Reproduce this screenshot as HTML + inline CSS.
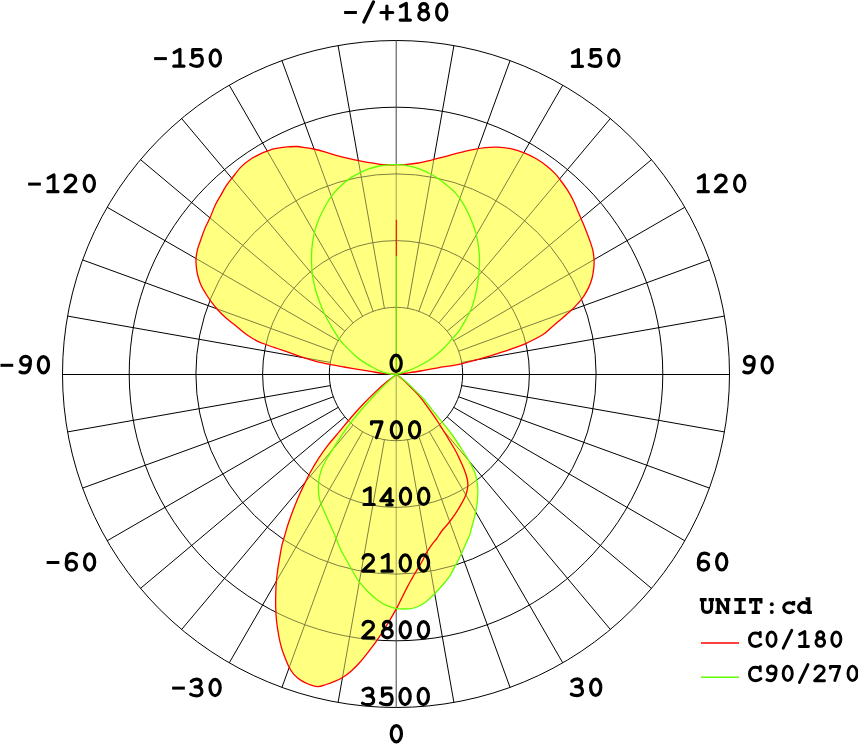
<!DOCTYPE html>
<html><head><meta charset="utf-8"><style>
html,body{margin:0;padding:0;background:#fff;overflow:hidden}
svg{display:block}
</style></head><body>
<svg width="858" height="744" viewBox="0 0 858 744">
<rect width="858" height="744" fill="#fff"/>
<defs><clipPath id="cy"><path d="M396.00 374.20 C395.57 374.17 395.55 374.13 393.40 374.00 C391.25 373.87 386.67 373.78 383.10 373.40 C379.53 373.02 376.18 372.37 372.00 371.70 C367.82 371.03 362.67 370.18 358.00 369.40 C353.33 368.62 348.67 367.83 344.00 367.00 C339.33 366.17 334.67 365.35 330.00 364.40 C325.33 363.45 320.52 362.47 316.00 361.30 C311.48 360.13 307.22 358.80 302.90 357.40 C298.58 356.00 294.37 354.38 290.10 352.90 C285.83 351.42 281.57 349.98 277.30 348.50 C273.03 347.02 267.92 345.28 264.50 344.00 C261.08 342.72 259.37 342.08 256.80 340.80 C254.23 339.52 251.67 338.02 249.10 336.30 C246.53 334.58 243.97 332.53 241.40 330.50 C238.83 328.47 236.22 326.13 233.70 324.10 C231.18 322.07 228.88 320.60 226.30 318.30 C223.72 316.00 220.67 312.98 218.20 310.30 C215.73 307.62 213.52 304.90 211.50 302.20 C209.48 299.50 207.78 296.78 206.10 294.10 C204.42 291.42 202.73 289.00 201.40 286.10 C200.07 283.20 198.92 279.62 198.10 276.70 C197.28 273.78 196.85 271.52 196.50 268.60 C196.15 265.68 195.85 262.33 196.00 259.20 C196.15 256.07 196.72 252.72 197.40 249.80 C198.08 246.88 198.87 245.22 200.10 241.70 C201.33 238.18 203.12 232.77 204.80 228.70 C206.48 224.63 208.42 221.33 210.20 217.30 C211.98 213.27 213.72 208.20 215.50 204.50 C217.28 200.80 219.10 198.23 220.90 195.10 C222.70 191.97 224.37 188.63 226.30 185.70 C228.23 182.77 230.03 180.63 232.50 177.50 C234.97 174.37 238.33 169.78 241.10 166.90 C243.87 164.02 245.97 162.33 249.10 160.20 C252.23 158.07 256.75 155.67 259.90 154.10 C263.05 152.53 265.53 151.70 268.00 150.80 C270.47 149.90 272.25 149.27 274.70 148.70 C277.15 148.13 280.42 147.70 282.70 147.40 C284.98 147.10 286.05 147.05 288.40 146.90 C290.75 146.75 294.00 146.38 296.80 146.50 C299.60 146.62 302.40 147.18 305.20 147.60 C308.00 148.02 310.33 148.30 313.60 149.00 C316.87 149.70 321.08 150.75 324.80 151.80 C328.52 152.85 332.18 154.25 335.90 155.30 C339.62 156.35 343.37 157.23 347.10 158.10 C350.83 158.97 354.57 159.73 358.30 160.50 C362.03 161.27 365.77 162.05 369.50 162.70 C373.23 163.35 377.43 164.05 380.70 164.40 C383.97 164.75 386.55 164.75 389.10 164.80 C391.65 164.85 392.98 164.77 396.00 164.70 C399.02 164.63 403.47 164.68 407.20 164.40 C410.93 164.12 414.67 163.63 418.40 163.00 C422.13 162.37 425.87 161.48 429.60 160.60 C433.33 159.72 437.08 158.70 440.80 157.70 C444.52 156.70 448.18 155.58 451.90 154.60 C455.62 153.62 459.37 152.68 463.10 151.80 C466.83 150.92 470.57 150.00 474.30 149.30 C478.03 148.60 481.77 147.95 485.50 147.60 C489.23 147.25 492.48 147.02 496.70 147.20 C500.92 147.38 506.22 147.77 510.80 148.70 C515.38 149.63 519.95 151.12 524.20 152.80 C528.45 154.48 532.50 156.57 536.30 158.80 C540.10 161.03 543.87 163.73 547.00 166.20 C550.13 168.67 552.85 171.25 555.10 173.60 C557.35 175.95 558.48 177.62 560.50 180.30 C562.52 182.98 565.07 186.33 567.20 189.70 C569.33 193.07 571.62 197.13 573.30 200.50 C574.98 203.87 575.97 206.77 577.30 209.90 C578.63 213.03 579.97 216.17 581.30 219.30 C582.63 222.43 583.73 224.73 585.30 228.70 C586.87 232.67 589.42 239.37 590.70 243.10 C591.98 246.83 592.43 248.20 593.00 251.10 C593.57 254.00 593.98 257.58 594.10 260.50 C594.22 263.42 594.03 265.68 593.70 268.60 C593.37 271.52 592.93 274.87 592.10 278.00 C591.27 281.13 590.17 284.27 588.70 287.40 C587.23 290.53 585.32 293.88 583.30 296.80 C581.28 299.72 578.83 302.43 576.60 304.90 C574.37 307.37 572.58 309.13 569.90 311.60 C567.22 314.07 563.63 317.02 560.50 319.70 C557.37 322.38 554.02 325.23 551.10 327.70 C548.18 330.17 547.25 331.85 543.00 334.50 C538.75 337.15 530.82 341.20 525.60 343.60 C520.38 346.00 515.53 347.52 511.70 348.90 C507.87 350.28 506.27 350.68 502.60 351.90 C498.93 353.12 494.13 354.85 489.70 356.20 C485.27 357.55 480.58 358.77 476.00 360.00 C471.42 361.23 466.20 362.67 462.20 363.60 C458.20 364.53 456.03 364.90 452.00 365.60 C447.97 366.30 442.67 367.02 438.00 367.80 C433.33 368.58 428.67 369.50 424.00 370.30 C419.33 371.10 414.20 372.02 410.00 372.60 C405.80 373.18 401.13 373.53 398.80 373.80 C396.47 374.07 396.47 374.13 396.00 374.20"/><path d="M396.50 374.40 C394.92 375.58 390.55 378.55 387.00 381.50 C383.45 384.45 379.15 388.35 375.20 392.10 C371.25 395.85 367.25 399.85 363.30 404.00 C359.35 408.15 355.43 412.47 351.50 417.00 C347.57 421.53 343.65 426.47 339.70 431.20 C335.75 435.93 331.32 440.87 327.80 445.40 C324.28 449.93 321.58 453.80 318.60 458.40 C315.62 463.00 312.35 468.55 309.90 473.00 C307.45 477.45 305.92 480.87 303.90 485.10 C301.88 489.33 299.62 494.17 297.80 498.40 C295.98 502.63 294.60 506.27 293.00 510.50 C291.40 514.73 289.60 519.55 288.20 523.80 C286.80 528.05 285.62 532.52 284.60 536.00 C283.58 539.48 282.92 541.10 282.10 544.70 C281.28 548.30 280.45 553.30 279.70 557.60 C278.95 561.90 278.18 566.20 277.60 570.50 C277.02 574.80 276.52 579.10 276.20 583.40 C275.88 587.70 275.78 592.27 275.70 596.30 C275.62 600.33 275.57 603.57 275.70 607.60 C275.83 611.63 276.02 615.93 276.50 620.50 C276.98 625.07 277.83 630.70 278.60 635.00 C279.37 639.30 280.23 643.05 281.10 646.30 C281.97 649.55 282.58 651.27 283.80 654.50 C285.02 657.73 286.77 662.43 288.40 665.70 C290.03 668.97 291.50 671.65 293.60 674.10 C295.70 676.55 298.37 678.67 301.00 680.40 C303.63 682.13 306.60 683.47 309.40 684.50 C312.20 685.53 315.00 686.60 317.80 686.60 C320.60 686.60 323.42 685.37 326.20 684.50 C328.98 683.63 331.72 682.62 334.50 681.40 C337.28 680.18 340.10 678.95 342.90 677.20 C345.70 675.45 348.50 673.35 351.30 670.90 C354.10 668.45 356.62 665.98 359.70 662.50 C362.78 659.02 367.07 653.48 369.80 650.00 C372.53 646.52 373.30 645.68 376.10 641.60 C378.90 637.52 383.12 631.17 386.60 625.50 C390.08 619.83 394.68 611.75 397.00 607.60 C399.32 603.45 399.33 602.93 400.50 600.60 C401.67 598.27 402.83 595.93 404.00 593.60 C405.17 591.27 406.33 588.82 407.50 586.60 C408.67 584.38 409.83 582.40 411.00 580.30 C412.17 578.20 413.33 575.98 414.50 574.00 C415.67 572.02 416.60 570.73 418.00 568.40 C419.40 566.07 421.55 562.52 422.90 560.00 C424.25 557.48 424.48 556.03 426.10 553.30 C427.72 550.57 430.87 545.98 432.60 543.60 C434.33 541.22 434.97 541.10 436.50 539.00 C438.03 536.90 439.72 533.75 441.80 531.00 C443.88 528.25 446.78 525.32 449.00 522.50 C451.22 519.68 453.08 517.12 455.10 514.10 C457.12 511.08 459.30 507.63 461.10 504.40 C462.90 501.17 464.78 497.72 465.90 494.70 C467.02 491.68 467.58 488.92 467.80 486.30 C468.02 483.68 467.82 481.83 467.20 479.00 C466.58 476.17 465.32 472.52 464.10 469.30 C462.88 466.08 461.40 462.92 459.90 459.70 C458.40 456.48 457.55 454.37 455.10 450.00 C452.65 445.63 448.22 438.42 445.20 433.50 C442.18 428.58 439.75 424.63 437.00 420.50 C434.25 416.37 431.47 412.55 428.70 408.70 C425.93 404.85 423.17 400.75 420.40 397.40 C417.63 394.05 414.87 391.45 412.10 388.60 C409.33 385.75 406.40 382.67 403.80 380.30 C401.20 377.93 397.72 375.38 396.50 374.40"/><path d="M396.00 374.20 C395.10 374.17 393.05 374.42 390.60 374.00 C388.15 373.58 384.40 372.87 381.30 371.70 C378.20 370.53 375.12 368.72 372.00 367.00 C368.88 365.28 365.72 363.57 362.60 361.40 C359.48 359.23 356.10 356.48 353.30 354.00 C350.50 351.52 347.97 348.75 345.80 346.50 C343.63 344.25 342.38 343.32 340.30 340.50 C338.22 337.68 335.85 333.85 333.30 329.60 C330.75 325.35 327.25 319.52 325.00 315.00 C322.75 310.48 321.37 306.67 319.80 302.50 C318.23 298.33 316.82 294.52 315.60 290.00 C314.38 285.48 313.18 280.27 312.50 275.40 C311.82 270.53 311.57 265.65 311.50 260.80 C311.43 255.95 311.58 251.15 312.10 246.30 C312.62 241.45 313.48 236.22 314.60 231.70 C315.72 227.18 317.07 223.37 318.80 219.20 C320.53 215.03 322.92 210.52 325.00 206.70 C327.08 202.88 328.55 199.87 331.30 196.30 C334.05 192.73 338.40 188.28 341.50 185.30 C344.60 182.32 346.87 180.48 349.90 178.40 C352.93 176.32 356.43 174.43 359.70 172.80 C362.97 171.17 366.23 169.73 369.50 168.60 C372.77 167.47 376.03 166.63 379.30 166.00 C382.57 165.37 386.32 165.02 389.10 164.80 C391.88 164.58 393.45 164.65 396.00 164.70 C398.55 164.75 401.60 164.73 404.40 165.10 C407.20 165.47 410.00 166.13 412.80 166.90 C415.60 167.67 418.40 168.60 421.20 169.70 C424.00 170.80 426.80 172.05 429.60 173.50 C432.40 174.95 435.18 176.48 438.00 178.40 C440.82 180.32 443.63 182.63 446.50 185.00 C449.37 187.37 452.40 189.47 455.20 192.60 C458.00 195.73 460.75 199.52 463.30 203.80 C465.85 208.08 468.42 213.45 470.50 218.30 C472.58 223.15 474.40 227.68 475.80 232.90 C477.20 238.12 478.28 244.38 478.90 249.60 C479.52 254.82 479.60 259.33 479.50 264.20 C479.40 269.07 478.92 273.95 478.30 278.80 C477.68 283.65 476.92 288.45 475.80 293.30 C474.68 298.15 473.35 303.38 471.60 307.90 C469.85 312.42 467.38 316.58 465.30 320.40 C463.22 324.22 461.38 327.62 459.10 330.80 C456.82 333.98 454.35 336.42 451.60 339.50 C448.85 342.58 445.65 346.35 442.60 349.30 C439.55 352.25 436.40 354.87 433.30 357.20 C430.20 359.53 427.12 361.50 424.00 363.30 C420.88 365.10 417.72 366.60 414.60 368.00 C411.48 369.40 407.93 370.73 405.30 371.70 C402.67 372.67 400.35 373.38 398.80 373.80 C397.25 374.22 396.47 374.13 396.00 374.20"/><path d="M396.50 374.40 C394.92 375.77 390.55 379.25 387.00 382.60 C383.45 385.95 379.15 390.35 375.20 394.50 C371.25 398.65 367.25 402.97 363.30 407.50 C359.35 412.03 355.43 416.57 351.50 421.70 C347.57 426.83 342.90 433.58 339.70 438.30 C336.50 443.02 334.43 446.63 332.30 450.00 C330.17 453.37 328.62 455.47 326.90 458.50 C325.18 461.53 323.32 464.78 322.00 468.20 C320.68 471.62 319.60 475.58 319.00 479.00 C318.40 482.42 318.30 485.27 318.40 488.70 C318.50 492.13 318.78 496.17 319.60 499.60 C320.42 503.03 321.88 505.87 323.30 509.30 C324.72 512.73 326.30 516.17 328.10 520.20 C329.90 524.23 332.02 528.63 334.10 533.50 C336.18 538.37 338.57 545.03 340.60 549.40 C342.63 553.77 344.40 556.27 346.30 559.70 C348.20 563.13 349.90 566.38 352.00 570.00 C354.10 573.62 356.23 577.78 358.90 581.40 C361.57 585.02 364.97 588.65 368.00 591.70 C371.03 594.75 374.05 597.42 377.10 599.70 C380.15 601.98 383.05 603.92 386.30 605.40 C389.55 606.88 393.65 608.00 396.60 608.60 C399.55 609.20 401.60 609.00 404.00 609.00 C406.40 609.00 408.67 609.02 411.00 608.60 C413.33 608.18 415.67 607.52 418.00 606.50 C420.33 605.48 422.40 604.47 425.00 602.50 C427.60 600.53 430.73 597.53 433.60 594.70 C436.47 591.87 439.50 588.63 442.20 585.50 C444.90 582.37 447.47 579.48 449.80 575.90 C452.13 572.32 454.23 567.77 456.20 564.00 C458.17 560.23 459.98 556.70 461.60 553.30 C463.22 549.90 464.55 546.65 465.90 543.60 C467.25 540.55 468.78 537.50 469.70 535.00 C470.62 532.50 470.62 531.48 471.40 528.60 C472.18 525.72 473.50 521.53 474.40 517.70 C475.30 513.87 476.23 509.43 476.80 505.60 C477.37 501.77 477.70 498.32 477.80 494.70 C477.90 491.08 477.87 487.52 477.40 483.90 C476.93 480.28 476.30 476.63 475.00 473.00 C473.70 469.37 471.72 465.93 469.60 462.10 C467.48 458.27 465.37 454.77 462.30 450.00 C459.23 445.23 454.63 438.22 451.20 433.50 C447.77 428.78 444.87 425.63 441.70 421.70 C438.53 417.77 435.35 413.85 432.20 409.90 C429.05 405.95 425.95 401.55 422.80 398.00 C419.65 394.45 416.47 391.65 413.30 388.60 C410.13 385.55 406.60 382.07 403.80 379.70 C401.00 377.33 397.72 375.28 396.50 374.40"/></clipPath>
<g id="grid" fill="none" stroke="#000" stroke-width="1">
<circle cx="396.0" cy="374.0" r="66.70"/>
<circle cx="396.0" cy="374.0" r="133.40"/>
<circle cx="396.0" cy="374.0" r="200.10"/>
<circle cx="396.0" cy="374.0" r="266.80"/>
<circle cx="396.0" cy="374.0" r="333.50"/>
<line x1="407.58" y1="439.69" x2="453.91" y2="702.43"/>
<line x1="418.81" y1="436.68" x2="510.06" y2="687.39"/>
<line x1="429.35" y1="431.76" x2="562.75" y2="662.82"/>
<line x1="438.87" y1="425.10" x2="610.37" y2="629.48"/>
<line x1="447.10" y1="416.87" x2="651.48" y2="588.37"/>
<line x1="453.76" y1="407.35" x2="684.82" y2="540.75"/>
<line x1="458.68" y1="396.81" x2="709.39" y2="488.06"/>
<line x1="461.69" y1="385.58" x2="724.43" y2="431.91"/>
<line x1="461.69" y1="362.42" x2="724.43" y2="316.09"/>
<line x1="458.68" y1="351.19" x2="709.39" y2="259.94"/>
<line x1="453.76" y1="340.65" x2="684.82" y2="207.25"/>
<line x1="447.10" y1="331.13" x2="651.48" y2="159.63"/>
<line x1="438.87" y1="322.90" x2="610.37" y2="118.52"/>
<line x1="429.35" y1="316.24" x2="562.75" y2="85.18"/>
<line x1="418.81" y1="311.32" x2="510.06" y2="60.61"/>
<line x1="407.58" y1="308.31" x2="453.91" y2="45.57"/>
<line x1="384.42" y1="308.31" x2="338.09" y2="45.57"/>
<line x1="373.19" y1="311.32" x2="281.94" y2="60.61"/>
<line x1="362.65" y1="316.24" x2="229.25" y2="85.18"/>
<line x1="353.13" y1="322.90" x2="181.63" y2="118.52"/>
<line x1="344.90" y1="331.13" x2="140.52" y2="159.63"/>
<line x1="338.24" y1="340.65" x2="107.18" y2="207.25"/>
<line x1="333.32" y1="351.19" x2="82.61" y2="259.94"/>
<line x1="330.31" y1="362.42" x2="67.57" y2="316.09"/>
<line x1="330.31" y1="385.58" x2="67.57" y2="431.91"/>
<line x1="333.32" y1="396.81" x2="82.61" y2="488.06"/>
<line x1="338.24" y1="407.35" x2="107.18" y2="540.75"/>
<line x1="344.90" y1="416.87" x2="140.52" y2="588.37"/>
<line x1="353.13" y1="425.10" x2="181.63" y2="629.48"/>
<line x1="362.65" y1="431.76" x2="229.25" y2="662.82"/>
<line x1="373.19" y1="436.68" x2="281.94" y2="687.39"/>
<line x1="384.42" y1="439.69" x2="338.09" y2="702.43"/>
<line x1="62.5" y1="374.5" x2="729.5" y2="374.5"/>
</g></defs>
<use href="#grid"/>
<line x1="396.2" y1="40" x2="396.2" y2="708" stroke="#444" stroke-width="1"/>
<g fill="#ffff80" stroke="none">
<path d="M396.00 374.20 C395.57 374.17 395.55 374.13 393.40 374.00 C391.25 373.87 386.67 373.78 383.10 373.40 C379.53 373.02 376.18 372.37 372.00 371.70 C367.82 371.03 362.67 370.18 358.00 369.40 C353.33 368.62 348.67 367.83 344.00 367.00 C339.33 366.17 334.67 365.35 330.00 364.40 C325.33 363.45 320.52 362.47 316.00 361.30 C311.48 360.13 307.22 358.80 302.90 357.40 C298.58 356.00 294.37 354.38 290.10 352.90 C285.83 351.42 281.57 349.98 277.30 348.50 C273.03 347.02 267.92 345.28 264.50 344.00 C261.08 342.72 259.37 342.08 256.80 340.80 C254.23 339.52 251.67 338.02 249.10 336.30 C246.53 334.58 243.97 332.53 241.40 330.50 C238.83 328.47 236.22 326.13 233.70 324.10 C231.18 322.07 228.88 320.60 226.30 318.30 C223.72 316.00 220.67 312.98 218.20 310.30 C215.73 307.62 213.52 304.90 211.50 302.20 C209.48 299.50 207.78 296.78 206.10 294.10 C204.42 291.42 202.73 289.00 201.40 286.10 C200.07 283.20 198.92 279.62 198.10 276.70 C197.28 273.78 196.85 271.52 196.50 268.60 C196.15 265.68 195.85 262.33 196.00 259.20 C196.15 256.07 196.72 252.72 197.40 249.80 C198.08 246.88 198.87 245.22 200.10 241.70 C201.33 238.18 203.12 232.77 204.80 228.70 C206.48 224.63 208.42 221.33 210.20 217.30 C211.98 213.27 213.72 208.20 215.50 204.50 C217.28 200.80 219.10 198.23 220.90 195.10 C222.70 191.97 224.37 188.63 226.30 185.70 C228.23 182.77 230.03 180.63 232.50 177.50 C234.97 174.37 238.33 169.78 241.10 166.90 C243.87 164.02 245.97 162.33 249.10 160.20 C252.23 158.07 256.75 155.67 259.90 154.10 C263.05 152.53 265.53 151.70 268.00 150.80 C270.47 149.90 272.25 149.27 274.70 148.70 C277.15 148.13 280.42 147.70 282.70 147.40 C284.98 147.10 286.05 147.05 288.40 146.90 C290.75 146.75 294.00 146.38 296.80 146.50 C299.60 146.62 302.40 147.18 305.20 147.60 C308.00 148.02 310.33 148.30 313.60 149.00 C316.87 149.70 321.08 150.75 324.80 151.80 C328.52 152.85 332.18 154.25 335.90 155.30 C339.62 156.35 343.37 157.23 347.10 158.10 C350.83 158.97 354.57 159.73 358.30 160.50 C362.03 161.27 365.77 162.05 369.50 162.70 C373.23 163.35 377.43 164.05 380.70 164.40 C383.97 164.75 386.55 164.75 389.10 164.80 C391.65 164.85 392.98 164.77 396.00 164.70 C399.02 164.63 403.47 164.68 407.20 164.40 C410.93 164.12 414.67 163.63 418.40 163.00 C422.13 162.37 425.87 161.48 429.60 160.60 C433.33 159.72 437.08 158.70 440.80 157.70 C444.52 156.70 448.18 155.58 451.90 154.60 C455.62 153.62 459.37 152.68 463.10 151.80 C466.83 150.92 470.57 150.00 474.30 149.30 C478.03 148.60 481.77 147.95 485.50 147.60 C489.23 147.25 492.48 147.02 496.70 147.20 C500.92 147.38 506.22 147.77 510.80 148.70 C515.38 149.63 519.95 151.12 524.20 152.80 C528.45 154.48 532.50 156.57 536.30 158.80 C540.10 161.03 543.87 163.73 547.00 166.20 C550.13 168.67 552.85 171.25 555.10 173.60 C557.35 175.95 558.48 177.62 560.50 180.30 C562.52 182.98 565.07 186.33 567.20 189.70 C569.33 193.07 571.62 197.13 573.30 200.50 C574.98 203.87 575.97 206.77 577.30 209.90 C578.63 213.03 579.97 216.17 581.30 219.30 C582.63 222.43 583.73 224.73 585.30 228.70 C586.87 232.67 589.42 239.37 590.70 243.10 C591.98 246.83 592.43 248.20 593.00 251.10 C593.57 254.00 593.98 257.58 594.10 260.50 C594.22 263.42 594.03 265.68 593.70 268.60 C593.37 271.52 592.93 274.87 592.10 278.00 C591.27 281.13 590.17 284.27 588.70 287.40 C587.23 290.53 585.32 293.88 583.30 296.80 C581.28 299.72 578.83 302.43 576.60 304.90 C574.37 307.37 572.58 309.13 569.90 311.60 C567.22 314.07 563.63 317.02 560.50 319.70 C557.37 322.38 554.02 325.23 551.10 327.70 C548.18 330.17 547.25 331.85 543.00 334.50 C538.75 337.15 530.82 341.20 525.60 343.60 C520.38 346.00 515.53 347.52 511.70 348.90 C507.87 350.28 506.27 350.68 502.60 351.90 C498.93 353.12 494.13 354.85 489.70 356.20 C485.27 357.55 480.58 358.77 476.00 360.00 C471.42 361.23 466.20 362.67 462.20 363.60 C458.20 364.53 456.03 364.90 452.00 365.60 C447.97 366.30 442.67 367.02 438.00 367.80 C433.33 368.58 428.67 369.50 424.00 370.30 C419.33 371.10 414.20 372.02 410.00 372.60 C405.80 373.18 401.13 373.53 398.80 373.80 C396.47 374.07 396.47 374.13 396.00 374.20"/><path d="M396.50 374.40 C394.92 375.58 390.55 378.55 387.00 381.50 C383.45 384.45 379.15 388.35 375.20 392.10 C371.25 395.85 367.25 399.85 363.30 404.00 C359.35 408.15 355.43 412.47 351.50 417.00 C347.57 421.53 343.65 426.47 339.70 431.20 C335.75 435.93 331.32 440.87 327.80 445.40 C324.28 449.93 321.58 453.80 318.60 458.40 C315.62 463.00 312.35 468.55 309.90 473.00 C307.45 477.45 305.92 480.87 303.90 485.10 C301.88 489.33 299.62 494.17 297.80 498.40 C295.98 502.63 294.60 506.27 293.00 510.50 C291.40 514.73 289.60 519.55 288.20 523.80 C286.80 528.05 285.62 532.52 284.60 536.00 C283.58 539.48 282.92 541.10 282.10 544.70 C281.28 548.30 280.45 553.30 279.70 557.60 C278.95 561.90 278.18 566.20 277.60 570.50 C277.02 574.80 276.52 579.10 276.20 583.40 C275.88 587.70 275.78 592.27 275.70 596.30 C275.62 600.33 275.57 603.57 275.70 607.60 C275.83 611.63 276.02 615.93 276.50 620.50 C276.98 625.07 277.83 630.70 278.60 635.00 C279.37 639.30 280.23 643.05 281.10 646.30 C281.97 649.55 282.58 651.27 283.80 654.50 C285.02 657.73 286.77 662.43 288.40 665.70 C290.03 668.97 291.50 671.65 293.60 674.10 C295.70 676.55 298.37 678.67 301.00 680.40 C303.63 682.13 306.60 683.47 309.40 684.50 C312.20 685.53 315.00 686.60 317.80 686.60 C320.60 686.60 323.42 685.37 326.20 684.50 C328.98 683.63 331.72 682.62 334.50 681.40 C337.28 680.18 340.10 678.95 342.90 677.20 C345.70 675.45 348.50 673.35 351.30 670.90 C354.10 668.45 356.62 665.98 359.70 662.50 C362.78 659.02 367.07 653.48 369.80 650.00 C372.53 646.52 373.30 645.68 376.10 641.60 C378.90 637.52 383.12 631.17 386.60 625.50 C390.08 619.83 394.68 611.75 397.00 607.60 C399.32 603.45 399.33 602.93 400.50 600.60 C401.67 598.27 402.83 595.93 404.00 593.60 C405.17 591.27 406.33 588.82 407.50 586.60 C408.67 584.38 409.83 582.40 411.00 580.30 C412.17 578.20 413.33 575.98 414.50 574.00 C415.67 572.02 416.60 570.73 418.00 568.40 C419.40 566.07 421.55 562.52 422.90 560.00 C424.25 557.48 424.48 556.03 426.10 553.30 C427.72 550.57 430.87 545.98 432.60 543.60 C434.33 541.22 434.97 541.10 436.50 539.00 C438.03 536.90 439.72 533.75 441.80 531.00 C443.88 528.25 446.78 525.32 449.00 522.50 C451.22 519.68 453.08 517.12 455.10 514.10 C457.12 511.08 459.30 507.63 461.10 504.40 C462.90 501.17 464.78 497.72 465.90 494.70 C467.02 491.68 467.58 488.92 467.80 486.30 C468.02 483.68 467.82 481.83 467.20 479.00 C466.58 476.17 465.32 472.52 464.10 469.30 C462.88 466.08 461.40 462.92 459.90 459.70 C458.40 456.48 457.55 454.37 455.10 450.00 C452.65 445.63 448.22 438.42 445.20 433.50 C442.18 428.58 439.75 424.63 437.00 420.50 C434.25 416.37 431.47 412.55 428.70 408.70 C425.93 404.85 423.17 400.75 420.40 397.40 C417.63 394.05 414.87 391.45 412.10 388.60 C409.33 385.75 406.40 382.67 403.80 380.30 C401.20 377.93 397.72 375.38 396.50 374.40"/><path d="M396.00 374.20 C395.10 374.17 393.05 374.42 390.60 374.00 C388.15 373.58 384.40 372.87 381.30 371.70 C378.20 370.53 375.12 368.72 372.00 367.00 C368.88 365.28 365.72 363.57 362.60 361.40 C359.48 359.23 356.10 356.48 353.30 354.00 C350.50 351.52 347.97 348.75 345.80 346.50 C343.63 344.25 342.38 343.32 340.30 340.50 C338.22 337.68 335.85 333.85 333.30 329.60 C330.75 325.35 327.25 319.52 325.00 315.00 C322.75 310.48 321.37 306.67 319.80 302.50 C318.23 298.33 316.82 294.52 315.60 290.00 C314.38 285.48 313.18 280.27 312.50 275.40 C311.82 270.53 311.57 265.65 311.50 260.80 C311.43 255.95 311.58 251.15 312.10 246.30 C312.62 241.45 313.48 236.22 314.60 231.70 C315.72 227.18 317.07 223.37 318.80 219.20 C320.53 215.03 322.92 210.52 325.00 206.70 C327.08 202.88 328.55 199.87 331.30 196.30 C334.05 192.73 338.40 188.28 341.50 185.30 C344.60 182.32 346.87 180.48 349.90 178.40 C352.93 176.32 356.43 174.43 359.70 172.80 C362.97 171.17 366.23 169.73 369.50 168.60 C372.77 167.47 376.03 166.63 379.30 166.00 C382.57 165.37 386.32 165.02 389.10 164.80 C391.88 164.58 393.45 164.65 396.00 164.70 C398.55 164.75 401.60 164.73 404.40 165.10 C407.20 165.47 410.00 166.13 412.80 166.90 C415.60 167.67 418.40 168.60 421.20 169.70 C424.00 170.80 426.80 172.05 429.60 173.50 C432.40 174.95 435.18 176.48 438.00 178.40 C440.82 180.32 443.63 182.63 446.50 185.00 C449.37 187.37 452.40 189.47 455.20 192.60 C458.00 195.73 460.75 199.52 463.30 203.80 C465.85 208.08 468.42 213.45 470.50 218.30 C472.58 223.15 474.40 227.68 475.80 232.90 C477.20 238.12 478.28 244.38 478.90 249.60 C479.52 254.82 479.60 259.33 479.50 264.20 C479.40 269.07 478.92 273.95 478.30 278.80 C477.68 283.65 476.92 288.45 475.80 293.30 C474.68 298.15 473.35 303.38 471.60 307.90 C469.85 312.42 467.38 316.58 465.30 320.40 C463.22 324.22 461.38 327.62 459.10 330.80 C456.82 333.98 454.35 336.42 451.60 339.50 C448.85 342.58 445.65 346.35 442.60 349.30 C439.55 352.25 436.40 354.87 433.30 357.20 C430.20 359.53 427.12 361.50 424.00 363.30 C420.88 365.10 417.72 366.60 414.60 368.00 C411.48 369.40 407.93 370.73 405.30 371.70 C402.67 372.67 400.35 373.38 398.80 373.80 C397.25 374.22 396.47 374.13 396.00 374.20"/><path d="M396.50 374.40 C394.92 375.77 390.55 379.25 387.00 382.60 C383.45 385.95 379.15 390.35 375.20 394.50 C371.25 398.65 367.25 402.97 363.30 407.50 C359.35 412.03 355.43 416.57 351.50 421.70 C347.57 426.83 342.90 433.58 339.70 438.30 C336.50 443.02 334.43 446.63 332.30 450.00 C330.17 453.37 328.62 455.47 326.90 458.50 C325.18 461.53 323.32 464.78 322.00 468.20 C320.68 471.62 319.60 475.58 319.00 479.00 C318.40 482.42 318.30 485.27 318.40 488.70 C318.50 492.13 318.78 496.17 319.60 499.60 C320.42 503.03 321.88 505.87 323.30 509.30 C324.72 512.73 326.30 516.17 328.10 520.20 C329.90 524.23 332.02 528.63 334.10 533.50 C336.18 538.37 338.57 545.03 340.60 549.40 C342.63 553.77 344.40 556.27 346.30 559.70 C348.20 563.13 349.90 566.38 352.00 570.00 C354.10 573.62 356.23 577.78 358.90 581.40 C361.57 585.02 364.97 588.65 368.00 591.70 C371.03 594.75 374.05 597.42 377.10 599.70 C380.15 601.98 383.05 603.92 386.30 605.40 C389.55 606.88 393.65 608.00 396.60 608.60 C399.55 609.20 401.60 609.00 404.00 609.00 C406.40 609.00 408.67 609.02 411.00 608.60 C413.33 608.18 415.67 607.52 418.00 606.50 C420.33 605.48 422.40 604.47 425.00 602.50 C427.60 600.53 430.73 597.53 433.60 594.70 C436.47 591.87 439.50 588.63 442.20 585.50 C444.90 582.37 447.47 579.48 449.80 575.90 C452.13 572.32 454.23 567.77 456.20 564.00 C458.17 560.23 459.98 556.70 461.60 553.30 C463.22 549.90 464.55 546.65 465.90 543.60 C467.25 540.55 468.78 537.50 469.70 535.00 C470.62 532.50 470.62 531.48 471.40 528.60 C472.18 525.72 473.50 521.53 474.40 517.70 C475.30 513.87 476.23 509.43 476.80 505.60 C477.37 501.77 477.70 498.32 477.80 494.70 C477.90 491.08 477.87 487.52 477.40 483.90 C476.93 480.28 476.30 476.63 475.00 473.00 C473.70 469.37 471.72 465.93 469.60 462.10 C467.48 458.27 465.37 454.77 462.30 450.00 C459.23 445.23 454.63 438.22 451.20 433.50 C447.77 428.78 444.87 425.63 441.70 421.70 C438.53 417.77 435.35 413.85 432.20 409.90 C429.05 405.95 425.95 401.55 422.80 398.00 C419.65 394.45 416.47 391.65 413.30 388.60 C410.13 385.55 406.60 382.07 403.80 379.70 C401.00 377.33 397.72 375.28 396.50 374.40"/>
</g>
<g clip-path="url(#cy)">
<use href="#grid" opacity="0.5"/>
<line x1="396.2" y1="40" x2="396.2" y2="708" stroke="#444" stroke-width="1" opacity="0.5"/>
</g>
<g fill="none" stroke-width="1.3" stroke-linejoin="round">
<path d="M396.00 374.20 C395.57 374.17 395.55 374.13 393.40 374.00 C391.25 373.87 386.67 373.78 383.10 373.40 C379.53 373.02 376.18 372.37 372.00 371.70 C367.82 371.03 362.67 370.18 358.00 369.40 C353.33 368.62 348.67 367.83 344.00 367.00 C339.33 366.17 334.67 365.35 330.00 364.40 C325.33 363.45 320.52 362.47 316.00 361.30 C311.48 360.13 307.22 358.80 302.90 357.40 C298.58 356.00 294.37 354.38 290.10 352.90 C285.83 351.42 281.57 349.98 277.30 348.50 C273.03 347.02 267.92 345.28 264.50 344.00 C261.08 342.72 259.37 342.08 256.80 340.80 C254.23 339.52 251.67 338.02 249.10 336.30 C246.53 334.58 243.97 332.53 241.40 330.50 C238.83 328.47 236.22 326.13 233.70 324.10 C231.18 322.07 228.88 320.60 226.30 318.30 C223.72 316.00 220.67 312.98 218.20 310.30 C215.73 307.62 213.52 304.90 211.50 302.20 C209.48 299.50 207.78 296.78 206.10 294.10 C204.42 291.42 202.73 289.00 201.40 286.10 C200.07 283.20 198.92 279.62 198.10 276.70 C197.28 273.78 196.85 271.52 196.50 268.60 C196.15 265.68 195.85 262.33 196.00 259.20 C196.15 256.07 196.72 252.72 197.40 249.80 C198.08 246.88 198.87 245.22 200.10 241.70 C201.33 238.18 203.12 232.77 204.80 228.70 C206.48 224.63 208.42 221.33 210.20 217.30 C211.98 213.27 213.72 208.20 215.50 204.50 C217.28 200.80 219.10 198.23 220.90 195.10 C222.70 191.97 224.37 188.63 226.30 185.70 C228.23 182.77 230.03 180.63 232.50 177.50 C234.97 174.37 238.33 169.78 241.10 166.90 C243.87 164.02 245.97 162.33 249.10 160.20 C252.23 158.07 256.75 155.67 259.90 154.10 C263.05 152.53 265.53 151.70 268.00 150.80 C270.47 149.90 272.25 149.27 274.70 148.70 C277.15 148.13 280.42 147.70 282.70 147.40 C284.98 147.10 286.05 147.05 288.40 146.90 C290.75 146.75 294.00 146.38 296.80 146.50 C299.60 146.62 302.40 147.18 305.20 147.60 C308.00 148.02 310.33 148.30 313.60 149.00 C316.87 149.70 321.08 150.75 324.80 151.80 C328.52 152.85 332.18 154.25 335.90 155.30 C339.62 156.35 343.37 157.23 347.10 158.10 C350.83 158.97 354.57 159.73 358.30 160.50 C362.03 161.27 365.77 162.05 369.50 162.70 C373.23 163.35 377.43 164.05 380.70 164.40 C383.97 164.75 386.55 164.75 389.10 164.80 C391.65 164.85 392.98 164.77 396.00 164.70 C399.02 164.63 403.47 164.68 407.20 164.40 C410.93 164.12 414.67 163.63 418.40 163.00 C422.13 162.37 425.87 161.48 429.60 160.60 C433.33 159.72 437.08 158.70 440.80 157.70 C444.52 156.70 448.18 155.58 451.90 154.60 C455.62 153.62 459.37 152.68 463.10 151.80 C466.83 150.92 470.57 150.00 474.30 149.30 C478.03 148.60 481.77 147.95 485.50 147.60 C489.23 147.25 492.48 147.02 496.70 147.20 C500.92 147.38 506.22 147.77 510.80 148.70 C515.38 149.63 519.95 151.12 524.20 152.80 C528.45 154.48 532.50 156.57 536.30 158.80 C540.10 161.03 543.87 163.73 547.00 166.20 C550.13 168.67 552.85 171.25 555.10 173.60 C557.35 175.95 558.48 177.62 560.50 180.30 C562.52 182.98 565.07 186.33 567.20 189.70 C569.33 193.07 571.62 197.13 573.30 200.50 C574.98 203.87 575.97 206.77 577.30 209.90 C578.63 213.03 579.97 216.17 581.30 219.30 C582.63 222.43 583.73 224.73 585.30 228.70 C586.87 232.67 589.42 239.37 590.70 243.10 C591.98 246.83 592.43 248.20 593.00 251.10 C593.57 254.00 593.98 257.58 594.10 260.50 C594.22 263.42 594.03 265.68 593.70 268.60 C593.37 271.52 592.93 274.87 592.10 278.00 C591.27 281.13 590.17 284.27 588.70 287.40 C587.23 290.53 585.32 293.88 583.30 296.80 C581.28 299.72 578.83 302.43 576.60 304.90 C574.37 307.37 572.58 309.13 569.90 311.60 C567.22 314.07 563.63 317.02 560.50 319.70 C557.37 322.38 554.02 325.23 551.10 327.70 C548.18 330.17 547.25 331.85 543.00 334.50 C538.75 337.15 530.82 341.20 525.60 343.60 C520.38 346.00 515.53 347.52 511.70 348.90 C507.87 350.28 506.27 350.68 502.60 351.90 C498.93 353.12 494.13 354.85 489.70 356.20 C485.27 357.55 480.58 358.77 476.00 360.00 C471.42 361.23 466.20 362.67 462.20 363.60 C458.20 364.53 456.03 364.90 452.00 365.60 C447.97 366.30 442.67 367.02 438.00 367.80 C433.33 368.58 428.67 369.50 424.00 370.30 C419.33 371.10 414.20 372.02 410.00 372.60 C405.80 373.18 401.13 373.53 398.80 373.80 C396.47 374.07 396.47 374.13 396.00 374.20" stroke="#ff0000"/>
<path d="M396.50 374.40 C394.92 375.58 390.55 378.55 387.00 381.50 C383.45 384.45 379.15 388.35 375.20 392.10 C371.25 395.85 367.25 399.85 363.30 404.00 C359.35 408.15 355.43 412.47 351.50 417.00 C347.57 421.53 343.65 426.47 339.70 431.20 C335.75 435.93 331.32 440.87 327.80 445.40 C324.28 449.93 321.58 453.80 318.60 458.40 C315.62 463.00 312.35 468.55 309.90 473.00 C307.45 477.45 305.92 480.87 303.90 485.10 C301.88 489.33 299.62 494.17 297.80 498.40 C295.98 502.63 294.60 506.27 293.00 510.50 C291.40 514.73 289.60 519.55 288.20 523.80 C286.80 528.05 285.62 532.52 284.60 536.00 C283.58 539.48 282.92 541.10 282.10 544.70 C281.28 548.30 280.45 553.30 279.70 557.60 C278.95 561.90 278.18 566.20 277.60 570.50 C277.02 574.80 276.52 579.10 276.20 583.40 C275.88 587.70 275.78 592.27 275.70 596.30 C275.62 600.33 275.57 603.57 275.70 607.60 C275.83 611.63 276.02 615.93 276.50 620.50 C276.98 625.07 277.83 630.70 278.60 635.00 C279.37 639.30 280.23 643.05 281.10 646.30 C281.97 649.55 282.58 651.27 283.80 654.50 C285.02 657.73 286.77 662.43 288.40 665.70 C290.03 668.97 291.50 671.65 293.60 674.10 C295.70 676.55 298.37 678.67 301.00 680.40 C303.63 682.13 306.60 683.47 309.40 684.50 C312.20 685.53 315.00 686.60 317.80 686.60 C320.60 686.60 323.42 685.37 326.20 684.50 C328.98 683.63 331.72 682.62 334.50 681.40 C337.28 680.18 340.10 678.95 342.90 677.20 C345.70 675.45 348.50 673.35 351.30 670.90 C354.10 668.45 356.62 665.98 359.70 662.50 C362.78 659.02 367.07 653.48 369.80 650.00 C372.53 646.52 373.30 645.68 376.10 641.60 C378.90 637.52 383.12 631.17 386.60 625.50 C390.08 619.83 394.68 611.75 397.00 607.60 C399.32 603.45 399.33 602.93 400.50 600.60 C401.67 598.27 402.83 595.93 404.00 593.60 C405.17 591.27 406.33 588.82 407.50 586.60 C408.67 584.38 409.83 582.40 411.00 580.30 C412.17 578.20 413.33 575.98 414.50 574.00 C415.67 572.02 416.60 570.73 418.00 568.40 C419.40 566.07 421.55 562.52 422.90 560.00 C424.25 557.48 424.48 556.03 426.10 553.30 C427.72 550.57 430.87 545.98 432.60 543.60 C434.33 541.22 434.97 541.10 436.50 539.00 C438.03 536.90 439.72 533.75 441.80 531.00 C443.88 528.25 446.78 525.32 449.00 522.50 C451.22 519.68 453.08 517.12 455.10 514.10 C457.12 511.08 459.30 507.63 461.10 504.40 C462.90 501.17 464.78 497.72 465.90 494.70 C467.02 491.68 467.58 488.92 467.80 486.30 C468.02 483.68 467.82 481.83 467.20 479.00 C466.58 476.17 465.32 472.52 464.10 469.30 C462.88 466.08 461.40 462.92 459.90 459.70 C458.40 456.48 457.55 454.37 455.10 450.00 C452.65 445.63 448.22 438.42 445.20 433.50 C442.18 428.58 439.75 424.63 437.00 420.50 C434.25 416.37 431.47 412.55 428.70 408.70 C425.93 404.85 423.17 400.75 420.40 397.40 C417.63 394.05 414.87 391.45 412.10 388.60 C409.33 385.75 406.40 382.67 403.80 380.30 C401.20 377.93 397.72 375.38 396.50 374.40" stroke="#ff0000"/>
<line x1="396.4" y1="219.8" x2="396.4" y2="256.3" stroke="#f82000"/>
<path d="M396.00 374.20 C395.10 374.17 393.05 374.42 390.60 374.00 C388.15 373.58 384.40 372.87 381.30 371.70 C378.20 370.53 375.12 368.72 372.00 367.00 C368.88 365.28 365.72 363.57 362.60 361.40 C359.48 359.23 356.10 356.48 353.30 354.00 C350.50 351.52 347.97 348.75 345.80 346.50 C343.63 344.25 342.38 343.32 340.30 340.50 C338.22 337.68 335.85 333.85 333.30 329.60 C330.75 325.35 327.25 319.52 325.00 315.00 C322.75 310.48 321.37 306.67 319.80 302.50 C318.23 298.33 316.82 294.52 315.60 290.00 C314.38 285.48 313.18 280.27 312.50 275.40 C311.82 270.53 311.57 265.65 311.50 260.80 C311.43 255.95 311.58 251.15 312.10 246.30 C312.62 241.45 313.48 236.22 314.60 231.70 C315.72 227.18 317.07 223.37 318.80 219.20 C320.53 215.03 322.92 210.52 325.00 206.70 C327.08 202.88 328.55 199.87 331.30 196.30 C334.05 192.73 338.40 188.28 341.50 185.30 C344.60 182.32 346.87 180.48 349.90 178.40 C352.93 176.32 356.43 174.43 359.70 172.80 C362.97 171.17 366.23 169.73 369.50 168.60 C372.77 167.47 376.03 166.63 379.30 166.00 C382.57 165.37 386.32 165.02 389.10 164.80 C391.88 164.58 393.45 164.65 396.00 164.70 C398.55 164.75 401.60 164.73 404.40 165.10 C407.20 165.47 410.00 166.13 412.80 166.90 C415.60 167.67 418.40 168.60 421.20 169.70 C424.00 170.80 426.80 172.05 429.60 173.50 C432.40 174.95 435.18 176.48 438.00 178.40 C440.82 180.32 443.63 182.63 446.50 185.00 C449.37 187.37 452.40 189.47 455.20 192.60 C458.00 195.73 460.75 199.52 463.30 203.80 C465.85 208.08 468.42 213.45 470.50 218.30 C472.58 223.15 474.40 227.68 475.80 232.90 C477.20 238.12 478.28 244.38 478.90 249.60 C479.52 254.82 479.60 259.33 479.50 264.20 C479.40 269.07 478.92 273.95 478.30 278.80 C477.68 283.65 476.92 288.45 475.80 293.30 C474.68 298.15 473.35 303.38 471.60 307.90 C469.85 312.42 467.38 316.58 465.30 320.40 C463.22 324.22 461.38 327.62 459.10 330.80 C456.82 333.98 454.35 336.42 451.60 339.50 C448.85 342.58 445.65 346.35 442.60 349.30 C439.55 352.25 436.40 354.87 433.30 357.20 C430.20 359.53 427.12 361.50 424.00 363.30 C420.88 365.10 417.72 366.60 414.60 368.00 C411.48 369.40 407.93 370.73 405.30 371.70 C402.67 372.67 400.35 373.38 398.80 373.80 C397.25 374.22 396.47 374.13 396.00 374.20" stroke="#60ff00"/>
<path d="M396.50 374.40 C394.92 375.77 390.55 379.25 387.00 382.60 C383.45 385.95 379.15 390.35 375.20 394.50 C371.25 398.65 367.25 402.97 363.30 407.50 C359.35 412.03 355.43 416.57 351.50 421.70 C347.57 426.83 342.90 433.58 339.70 438.30 C336.50 443.02 334.43 446.63 332.30 450.00 C330.17 453.37 328.62 455.47 326.90 458.50 C325.18 461.53 323.32 464.78 322.00 468.20 C320.68 471.62 319.60 475.58 319.00 479.00 C318.40 482.42 318.30 485.27 318.40 488.70 C318.50 492.13 318.78 496.17 319.60 499.60 C320.42 503.03 321.88 505.87 323.30 509.30 C324.72 512.73 326.30 516.17 328.10 520.20 C329.90 524.23 332.02 528.63 334.10 533.50 C336.18 538.37 338.57 545.03 340.60 549.40 C342.63 553.77 344.40 556.27 346.30 559.70 C348.20 563.13 349.90 566.38 352.00 570.00 C354.10 573.62 356.23 577.78 358.90 581.40 C361.57 585.02 364.97 588.65 368.00 591.70 C371.03 594.75 374.05 597.42 377.10 599.70 C380.15 601.98 383.05 603.92 386.30 605.40 C389.55 606.88 393.65 608.00 396.60 608.60 C399.55 609.20 401.60 609.00 404.00 609.00 C406.40 609.00 408.67 609.02 411.00 608.60 C413.33 608.18 415.67 607.52 418.00 606.50 C420.33 605.48 422.40 604.47 425.00 602.50 C427.60 600.53 430.73 597.53 433.60 594.70 C436.47 591.87 439.50 588.63 442.20 585.50 C444.90 582.37 447.47 579.48 449.80 575.90 C452.13 572.32 454.23 567.77 456.20 564.00 C458.17 560.23 459.98 556.70 461.60 553.30 C463.22 549.90 464.55 546.65 465.90 543.60 C467.25 540.55 468.78 537.50 469.70 535.00 C470.62 532.50 470.62 531.48 471.40 528.60 C472.18 525.72 473.50 521.53 474.40 517.70 C475.30 513.87 476.23 509.43 476.80 505.60 C477.37 501.77 477.70 498.32 477.80 494.70 C477.90 491.08 477.87 487.52 477.40 483.90 C476.93 480.28 476.30 476.63 475.00 473.00 C473.70 469.37 471.72 465.93 469.60 462.10 C467.48 458.27 465.37 454.77 462.30 450.00 C459.23 445.23 454.63 438.22 451.20 433.50 C447.77 428.78 444.87 425.63 441.70 421.70 C438.53 417.77 435.35 413.85 432.20 409.90 C429.05 405.95 425.95 401.55 422.80 398.00 C419.65 394.45 416.47 391.65 413.30 388.60 C410.13 385.55 406.60 382.07 403.80 379.70 C401.00 377.33 397.72 375.28 396.50 374.40" stroke="#60ff00"/>
<line x1="396.4" y1="256.3" x2="396.4" y2="374" stroke="#78d800"/>
</g>
<g fill="#000">
<g fill="none" stroke="#000" stroke-width="3.20" stroke-linecap="round" stroke-linejoin="round"><path transform="translate(368.70 21.70) scale(1.000)" d="M-4.85 0.35 L4.75 -19.75"/><path transform="translate(386.90 21.70) scale(1.000)" d="M-5.9 -9.2 H5.9 M0 -15.6 V-2.7"/><path transform="translate(405.10 21.70) scale(1.000)" d="M-4.6 -15.2 L1.2 -18.3 V-1.6 M-4.9 -1.6 H5.3"/><path transform="translate(423.30 21.70) scale(1.000)" d="M-3.50 -14.50 A3.90 3.60 0 1 0 4.30 -14.50 A3.90 3.60 0 1 0 -3.50 -14.50 Z M-4.50 -6.30 A4.90 4.60 0 1 0 5.30 -6.30 A4.90 4.60 0 1 0 -4.50 -6.30 Z"/><path transform="translate(441.50 21.70) scale(1.000)" d="M-4.90 -9.80 A5.10 8.15 0 1 0 5.30 -9.80 A5.10 8.15 0 1 0 -4.90 -9.80 Z"/></g><rect x="344.15" y="11.00" width="12.70" height="3.00"/>
<g fill="none" stroke="#000" stroke-width="3.20" stroke-linecap="round" stroke-linejoin="round"><path transform="translate(178.70 67.80) scale(1.000)" d="M-4.6 -15.2 L1.2 -18.3 V-1.6 M-4.9 -1.6 H5.3"/><path transform="translate(196.90 67.80) scale(1.000)" d="M4.3 -18.2 H-4.2 V-10.0 C-2.6 -11.8 -0.8 -12.6 1.0 -12.6 C3.6 -12.6 5.4 -10.6 5.4 -7.0 C5.4 -3.4 3.3 -1.5 -0.2 -1.5 C-2.5 -1.5 -4.6 -2.2 -6.2 -3.3"/><path transform="translate(215.10 67.80) scale(1.000)" d="M-4.90 -9.80 A5.10 8.15 0 1 0 5.30 -9.80 A5.10 8.15 0 1 0 -4.90 -9.80 Z"/></g><rect x="154.15" y="57.10" width="12.70" height="3.00"/>
<g fill="none" stroke="#000" stroke-width="3.20" stroke-linecap="round" stroke-linejoin="round"><path transform="translate(577.20 67.90) scale(1.000)" d="M-4.6 -15.2 L1.2 -18.3 V-1.6 M-4.9 -1.6 H5.3"/><path transform="translate(595.40 67.90) scale(1.000)" d="M4.3 -18.2 H-4.2 V-10.0 C-2.6 -11.8 -0.8 -12.6 1.0 -12.6 C3.6 -12.6 5.4 -10.6 5.4 -7.0 C5.4 -3.4 3.3 -1.5 -0.2 -1.5 C-2.5 -1.5 -4.6 -2.2 -6.2 -3.3"/><path transform="translate(613.60 67.90) scale(1.000)" d="M-4.90 -9.80 A5.10 8.15 0 1 0 5.30 -9.80 A5.10 8.15 0 1 0 -4.90 -9.80 Z"/></g>
<g fill="none" stroke="#000" stroke-width="3.20" stroke-linecap="round" stroke-linejoin="round"><path transform="translate(52.70 193.30) scale(1.000)" d="M-4.6 -15.2 L1.2 -18.3 V-1.6 M-4.9 -1.6 H5.3"/><path transform="translate(70.90 193.30) scale(1.000)" d="M-5.6 -14.6 C-4.9 -17.2 -2.6 -18.2 -0.3 -18.2 C2.8 -18.2 4.7 -16.3 4.7 -13.8 C4.7 -11.4 3.0 -10.0 0.8 -8.3 L-6.0 -1.6 H5.1"/><path transform="translate(89.10 193.30) scale(1.000)" d="M-4.90 -9.80 A5.10 8.15 0 1 0 5.30 -9.80 A5.10 8.15 0 1 0 -4.90 -9.80 Z"/></g><rect x="28.15" y="182.60" width="12.70" height="3.00"/>
<g fill="none" stroke="#000" stroke-width="3.20" stroke-linecap="round" stroke-linejoin="round"><path transform="translate(703.10 193.30) scale(1.000)" d="M-4.6 -15.2 L1.2 -18.3 V-1.6 M-4.9 -1.6 H5.3"/><path transform="translate(721.30 193.30) scale(1.000)" d="M-5.6 -14.6 C-4.9 -17.2 -2.6 -18.2 -0.3 -18.2 C2.8 -18.2 4.7 -16.3 4.7 -13.8 C4.7 -11.4 3.0 -10.0 0.8 -8.3 L-6.0 -1.6 H5.1"/><path transform="translate(739.50 193.30) scale(1.000)" d="M-4.90 -9.80 A5.10 8.15 0 1 0 5.30 -9.80 A5.10 8.15 0 1 0 -4.90 -9.80 Z"/></g>
<g fill="none" stroke="#000" stroke-width="3.20" stroke-linecap="round" stroke-linejoin="round"><path transform="translate(25.05 374.50) scale(1.000)" d="M-4.35 -13.70 A4.85 4.45 0 1 0 5.35 -13.70 A4.85 4.45 0 1 0 -4.35 -13.70 Z M5.35 -13.7 C5.35 -5.5 3.0 -1.6 -1.0 -1.6 C-2.6 -1.6 -3.9 -1.9 -5.0 -2.6"/><path transform="translate(43.25 374.50) scale(1.000)" d="M-4.90 -9.80 A5.10 8.15 0 1 0 5.30 -9.80 A5.10 8.15 0 1 0 -4.90 -9.80 Z"/></g><rect x="0.50" y="363.80" width="12.70" height="3.00"/>
<g fill="none" stroke="#000" stroke-width="3.20" stroke-linecap="round" stroke-linejoin="round"><path transform="translate(748.80 374.50) scale(1.000)" d="M-4.35 -13.70 A4.85 4.45 0 1 0 5.35 -13.70 A4.85 4.45 0 1 0 -4.35 -13.70 Z M5.35 -13.7 C5.35 -5.5 3.0 -1.6 -1.0 -1.6 C-2.6 -1.6 -3.9 -1.9 -5.0 -2.6"/><path transform="translate(767.00 374.50) scale(1.000)" d="M-4.90 -9.80 A5.10 8.15 0 1 0 5.30 -9.80 A5.10 8.15 0 1 0 -4.90 -9.80 Z"/></g>
<g fill="none" stroke="#000" stroke-width="3.20" stroke-linecap="round" stroke-linejoin="round"><path transform="translate(71.20 571.70) scale(1.000)" d="M5.3 -17.0 C3.9 -18.1 2.4 -18.4 1.0 -18.4 C-3.0 -18.4 -4.9 -14.4 -4.9 -8.5 C-4.9 -7.6 -4.85 -6.8 -4.75 -6.0 M-4.70 -6.00 A5.00 4.50 0 1 0 5.30 -6.00 A5.00 4.50 0 1 0 -4.70 -6.00 Z"/><path transform="translate(89.40 571.70) scale(1.000)" d="M-4.90 -9.80 A5.10 8.15 0 1 0 5.30 -9.80 A5.10 8.15 0 1 0 -4.90 -9.80 Z"/></g><rect x="46.65" y="561.00" width="12.70" height="3.00"/>
<g fill="none" stroke="#000" stroke-width="3.20" stroke-linecap="round" stroke-linejoin="round"><path transform="translate(703.30 571.60) scale(1.000)" d="M5.3 -17.0 C3.9 -18.1 2.4 -18.4 1.0 -18.4 C-3.0 -18.4 -4.9 -14.4 -4.9 -8.5 C-4.9 -7.6 -4.85 -6.8 -4.75 -6.0 M-4.70 -6.00 A5.00 4.50 0 1 0 5.30 -6.00 A5.00 4.50 0 1 0 -4.70 -6.00 Z"/><path transform="translate(721.50 571.60) scale(1.000)" d="M-4.90 -9.80 A5.10 8.15 0 1 0 5.30 -9.80 A5.10 8.15 0 1 0 -4.90 -9.80 Z"/></g>
<g fill="none" stroke="#000" stroke-width="3.20" stroke-linecap="round" stroke-linejoin="round"><path transform="translate(196.70 697.30) scale(1.000)" d="M-5.4 -16.0 C-3.8 -17.7 -1.8 -18.2 0.0 -18.2 C2.8 -18.2 4.3 -16.4 4.3 -14.3 C4.3 -11.8 2.2 -10.4 -1.6 -10.4 M-0.2 -10.4 C3.3 -10.4 5.2 -8.4 5.2 -5.9 C5.2 -3.0 2.8 -1.5 -0.1 -1.5 C-2.4 -1.5 -4.6 -2.0 -6.0 -3.0"/><path transform="translate(214.90 697.30) scale(1.000)" d="M-4.90 -9.80 A5.10 8.15 0 1 0 5.30 -9.80 A5.10 8.15 0 1 0 -4.90 -9.80 Z"/></g><rect x="172.15" y="686.60" width="12.70" height="3.00"/>
<g fill="none" stroke="#000" stroke-width="3.20" stroke-linecap="round" stroke-linejoin="round"><path transform="translate(577.30 697.10) scale(1.000)" d="M-5.4 -16.0 C-3.8 -17.7 -1.8 -18.2 0.0 -18.2 C2.8 -18.2 4.3 -16.4 4.3 -14.3 C4.3 -11.8 2.2 -10.4 -1.6 -10.4 M-0.2 -10.4 C3.3 -10.4 5.2 -8.4 5.2 -5.9 C5.2 -3.0 2.8 -1.5 -0.1 -1.5 C-2.4 -1.5 -4.6 -2.0 -6.0 -3.0"/><path transform="translate(595.50 697.10) scale(1.000)" d="M-4.90 -9.80 A5.10 8.15 0 1 0 5.30 -9.80 A5.10 8.15 0 1 0 -4.90 -9.80 Z"/></g>
<g fill="none" stroke="#000" stroke-width="3.20" stroke-linecap="round" stroke-linejoin="round"><path transform="translate(396.15 743.50) scale(1.000)" d="M-4.90 -9.80 A5.10 8.15 0 1 0 5.30 -9.80 A5.10 8.15 0 1 0 -4.90 -9.80 Z"/></g>
<g fill="none" stroke="#000" stroke-width="3.20" stroke-linecap="round" stroke-linejoin="round"><path transform="translate(395.95 373.10) scale(1.000)" d="M-4.90 -9.80 A5.10 8.15 0 1 0 5.30 -9.80 A5.10 8.15 0 1 0 -4.90 -9.80 Z"/></g>
<g fill="none" stroke="#000" stroke-width="3.20" stroke-linecap="round" stroke-linejoin="round"><path transform="translate(378.00 439.50) scale(1.000)" d="M-6.5 -15.6 V-17.6 H4.0 L-1.5 -1.8"/><path transform="translate(396.20 439.50) scale(1.000)" d="M-4.90 -9.80 A5.10 8.15 0 1 0 5.30 -9.80 A5.10 8.15 0 1 0 -4.90 -9.80 Z"/><path transform="translate(414.40 439.50) scale(1.000)" d="M-4.90 -9.80 A5.10 8.15 0 1 0 5.30 -9.80 A5.10 8.15 0 1 0 -4.90 -9.80 Z"/></g>
<g fill="none" stroke="#000" stroke-width="3.20" stroke-linecap="round" stroke-linejoin="round"><path transform="translate(368.90 506.10) scale(1.000)" d="M-4.6 -15.2 L1.2 -18.3 V-1.6 M-4.9 -1.6 H5.3"/><path transform="translate(387.10 506.10) scale(1.000)" d="M2.9 -1.1 V-17.6 L-6.3 -5.4 H5.8 M-0.3 -1.1 H4.9"/><path transform="translate(405.30 506.10) scale(1.000)" d="M-4.90 -9.80 A5.10 8.15 0 1 0 5.30 -9.80 A5.10 8.15 0 1 0 -4.90 -9.80 Z"/><path transform="translate(423.50 506.10) scale(1.000)" d="M-4.90 -9.80 A5.10 8.15 0 1 0 5.30 -9.80 A5.10 8.15 0 1 0 -4.90 -9.80 Z"/></g>
<g fill="none" stroke="#000" stroke-width="3.20" stroke-linecap="round" stroke-linejoin="round"><path transform="translate(368.70 572.80) scale(1.000)" d="M-5.6 -14.6 C-4.9 -17.2 -2.6 -18.2 -0.3 -18.2 C2.8 -18.2 4.7 -16.3 4.7 -13.8 C4.7 -11.4 3.0 -10.0 0.8 -8.3 L-6.0 -1.6 H5.1"/><path transform="translate(386.90 572.80) scale(1.000)" d="M-4.6 -15.2 L1.2 -18.3 V-1.6 M-4.9 -1.6 H5.3"/><path transform="translate(405.10 572.80) scale(1.000)" d="M-4.90 -9.80 A5.10 8.15 0 1 0 5.30 -9.80 A5.10 8.15 0 1 0 -4.90 -9.80 Z"/><path transform="translate(423.30 572.80) scale(1.000)" d="M-4.90 -9.80 A5.10 8.15 0 1 0 5.30 -9.80 A5.10 8.15 0 1 0 -4.90 -9.80 Z"/></g>
<g fill="none" stroke="#000" stroke-width="3.20" stroke-linecap="round" stroke-linejoin="round"><path transform="translate(368.70 639.50) scale(1.000)" d="M-5.6 -14.6 C-4.9 -17.2 -2.6 -18.2 -0.3 -18.2 C2.8 -18.2 4.7 -16.3 4.7 -13.8 C4.7 -11.4 3.0 -10.0 0.8 -8.3 L-6.0 -1.6 H5.1"/><path transform="translate(386.90 639.50) scale(1.000)" d="M-3.50 -14.50 A3.90 3.60 0 1 0 4.30 -14.50 A3.90 3.60 0 1 0 -3.50 -14.50 Z M-4.50 -6.30 A4.90 4.60 0 1 0 5.30 -6.30 A4.90 4.60 0 1 0 -4.50 -6.30 Z"/><path transform="translate(405.10 639.50) scale(1.000)" d="M-4.90 -9.80 A5.10 8.15 0 1 0 5.30 -9.80 A5.10 8.15 0 1 0 -4.90 -9.80 Z"/><path transform="translate(423.30 639.50) scale(1.000)" d="M-4.90 -9.80 A5.10 8.15 0 1 0 5.30 -9.80 A5.10 8.15 0 1 0 -4.90 -9.80 Z"/></g>
<g fill="none" stroke="#000" stroke-width="3.20" stroke-linecap="round" stroke-linejoin="round"><path transform="translate(368.50 706.20) scale(1.000)" d="M-5.4 -16.0 C-3.8 -17.7 -1.8 -18.2 0.0 -18.2 C2.8 -18.2 4.3 -16.4 4.3 -14.3 C4.3 -11.8 2.2 -10.4 -1.6 -10.4 M-0.2 -10.4 C3.3 -10.4 5.2 -8.4 5.2 -5.9 C5.2 -3.0 2.8 -1.5 -0.1 -1.5 C-2.4 -1.5 -4.6 -2.0 -6.0 -3.0"/><path transform="translate(386.70 706.20) scale(1.000)" d="M4.3 -18.2 H-4.2 V-10.0 C-2.6 -11.8 -0.8 -12.6 1.0 -12.6 C3.6 -12.6 5.4 -10.6 5.4 -7.0 C5.4 -3.4 3.3 -1.5 -0.2 -1.5 C-2.5 -1.5 -4.6 -2.2 -6.2 -3.3"/><path transform="translate(404.90 706.20) scale(1.000)" d="M-4.90 -9.80 A5.10 8.15 0 1 0 5.30 -9.80 A5.10 8.15 0 1 0 -4.90 -9.80 Z"/><path transform="translate(423.10 706.20) scale(1.000)" d="M-4.90 -9.80 A5.10 8.15 0 1 0 5.30 -9.80 A5.10 8.15 0 1 0 -4.90 -9.80 Z"/></g>
<g fill="none" stroke="#000" stroke-width="3.26" stroke-linecap="round" stroke-linejoin="round"><path transform="translate(755.15 647.90) scale(0.890)" d="M5.7 -17.4 V-12.6 M5.7 -14.4 C4.6 -16.2 2.6 -16.75 0.2 -16.75 C-3.9 -16.75 -6.4 -13.4 -6.4 -9.2 C-6.4 -4.9 -3.9 -1.6 0.2 -1.6 C2.8 -1.6 4.9 -2.4 6.5 -3.9"/><path transform="translate(771.35 647.90) scale(0.890)" d="M-4.90 -9.80 A5.10 8.15 0 1 0 5.30 -9.80 A5.10 8.15 0 1 0 -4.90 -9.80 Z"/><path transform="translate(787.55 647.90) scale(0.890)" d="M-4.85 0.35 L4.75 -19.75"/><path transform="translate(803.75 647.90) scale(0.890)" d="M-4.6 -15.2 L1.2 -18.3 V-1.6 M-4.9 -1.6 H5.3"/><path transform="translate(819.95 647.90) scale(0.890)" d="M-3.50 -14.50 A3.90 3.60 0 1 0 4.30 -14.50 A3.90 3.60 0 1 0 -3.50 -14.50 Z M-4.50 -6.30 A4.90 4.60 0 1 0 5.30 -6.30 A4.90 4.60 0 1 0 -4.50 -6.30 Z"/><path transform="translate(836.15 647.90) scale(0.890)" d="M-4.90 -9.80 A5.10 8.15 0 1 0 5.30 -9.80 A5.10 8.15 0 1 0 -4.90 -9.80 Z"/></g><g fill="none" stroke="#000" stroke-width="3.26" stroke-linecap="round" stroke-linejoin="round"><path transform="translate(755.15 682.10) scale(0.890)" d="M5.7 -17.4 V-12.6 M5.7 -14.4 C4.6 -16.2 2.6 -16.75 0.2 -16.75 C-3.9 -16.75 -6.4 -13.4 -6.4 -9.2 C-6.4 -4.9 -3.9 -1.6 0.2 -1.6 C2.8 -1.6 4.9 -2.4 6.5 -3.9"/><path transform="translate(771.35 682.10) scale(0.890)" d="M-4.35 -13.70 A4.85 4.45 0 1 0 5.35 -13.70 A4.85 4.45 0 1 0 -4.35 -13.70 Z M5.35 -13.7 C5.35 -5.5 3.0 -1.6 -1.0 -1.6 C-2.6 -1.6 -3.9 -1.9 -5.0 -2.6"/><path transform="translate(787.55 682.10) scale(0.890)" d="M-4.90 -9.80 A5.10 8.15 0 1 0 5.30 -9.80 A5.10 8.15 0 1 0 -4.90 -9.80 Z"/><path transform="translate(803.75 682.10) scale(0.890)" d="M-4.85 0.35 L4.75 -19.75"/><path transform="translate(819.95 682.10) scale(0.890)" d="M-5.6 -14.6 C-4.9 -17.2 -2.6 -18.2 -0.3 -18.2 C2.8 -18.2 4.7 -16.3 4.7 -13.8 C4.7 -11.4 3.0 -10.0 0.8 -8.3 L-6.0 -1.6 H5.1"/><path transform="translate(836.15 682.10) scale(0.890)" d="M-6.5 -15.6 V-17.6 H4.0 L-1.5 -1.8"/><path transform="translate(852.35 682.10) scale(0.890)" d="M-4.90 -9.80 A5.10 8.15 0 1 0 5.30 -9.80 A5.10 8.15 0 1 0 -4.90 -9.80 Z"/></g>
</g>
<line x1="701" y1="643" x2="739" y2="643" stroke="#ff0000" stroke-width="1.5"/>
<line x1="701" y1="677.3" x2="739" y2="677.3" stroke="#60ff00" stroke-width="1.5"/>
<path d="M699.8 599.6 H706.6 M708.6 599.6 H714 M702.5 599.6 V607.6 Q702.5 612.4 707.05 612.4 Q711.6 612.4 711.6 607.6 V599.6 M715.4 599.6 H720.2 M724.4 599.6 H730.4 M718.3 599.6 V612.4 M715.4 612.4 H721.4 M718.6 599.0 L727.2 612.6 M727.6 614.0 V599.6 M734.3 599.6 H745.8 M734.3 612.4 H745.8 M740.05 599.6 V612.4 M749.1 599.6 H762.5 M750.65 598.1 V603.6 M760.95 598.1 V603.6 M755.8 599.6 V612.4 M751.7 612.4 H759.9 M793.65 601.0 V605.4 M793.65 604.6 A5.55 4.95 0 1 0 794.0 610.3 M805.6 598.9 H808.8 V612.4 H811.9 M808.8 605.2 A5.4 4.95 0 1 0 808.8 609.8" fill="none" stroke="#000" stroke-width="3.1"/><circle cx="771.8" cy="604.3" r="1.95"/><circle cx="771.8" cy="612.0" r="1.95"/>
</svg>
</body></html>
